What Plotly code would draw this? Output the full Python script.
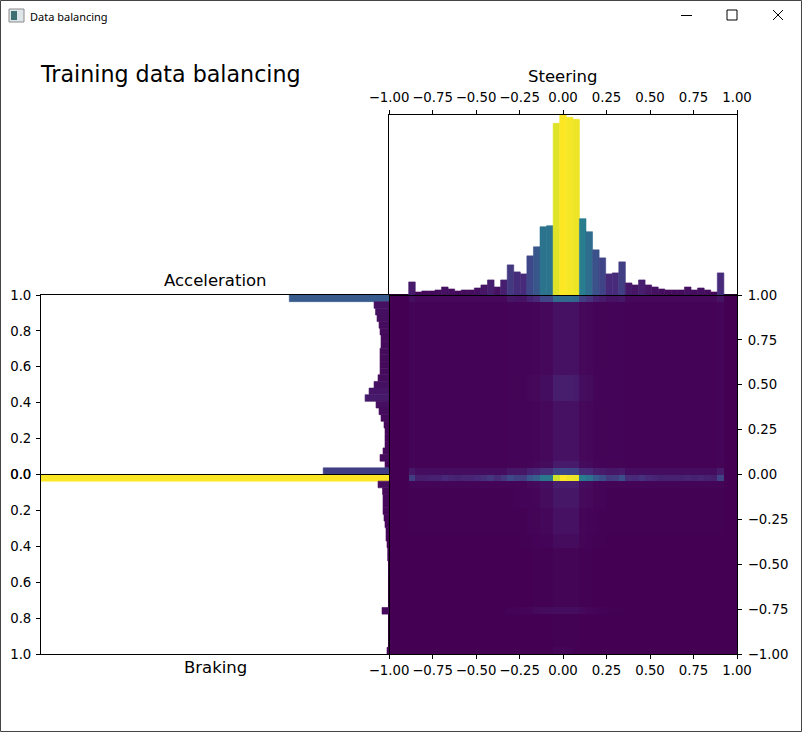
import numpy as np
import plotly.graph_objects as go
from plotly.colors import sample_colorscale

W, H = 802, 732

# ---------------- data ----------------
# steering histogram: 53 bins over [-1, 1]
steer_edges = np.linspace(-1.0, 1.0, 54)
steer_counts = [0, 0, 0, 130, 30, 40, 40, 50, 80, 60, 40, 50, 50,
                70, 100, 150, 80, 150, 300, 230, 210, 390, 480, 680, 690,
                1710, 1793, 1770, 1750, 760, 630, 450, 370, 210, 220, 330,
                120, 100, 150, 100, 80, 60, 50, 50, 50, 80, 50, 70, 50, 30,
                220, 0, 0]

# acceleration histogram: 27 bins, listed from 1.0 down to 0.0
accel_edges = np.linspace(1.0, 0.0, 28)
accel_counts = [1000, 150, 135, 120, 100, 90, 80, 80, 90, 90, 90, 90, 110,
                150, 200, 240, 130, 100, 80, 50, 40, 40, 40, 60, 90, 40, 660]

# braking histogram: 27 bins, listed from 0.0 down to 1.0
brake_edges = np.linspace(0.0, 1.0, 28)
brake_counts = [3490, 110, 65, 60, 60, 60, 50, 40, 30, 30, 20, 13, 13,
                5, 5, 3, 3, 3, 3, 3, 70, 2, 2, 2, 2, 2, 20]

# 2D histogram (per-mille of max), rows listed from throttle 1.0 (top) to -1.0 (bottom)
throttle_edges = np.linspace(-1.0, 1.0, 55)

row_accel_top = [0, 0, 0, 40,
                 20, 20, 20, 20, 20, 20, 20, 20, 20, 20, 20, 20, 20, 20,
                 60, 50, 50, 90, 110, 210, 210, 340, 350, 340, 330, 190, 140, 90, 70, 50, 50, 60,
                 20, 20, 20, 20, 20, 20, 20, 20, 20, 20, 20, 20, 20, 20,
                 50, 0, 0]
row_accel_body = [0, 0, 0, 8,
                  5, 5, 5, 5, 5, 5, 5, 5, 5, 5, 5, 5, 5, 5,
                  8, 8, 8, 12, 14, 20, 20, 45, 45, 45, 45, 20, 18, 12, 10, 8, 8, 8,
                  5, 5, 5, 5, 5, 5, 5, 5, 5, 5, 5, 5, 5, 5,
                  8, 0, 0]
row_accel_mid = [0, 0, 0, 8,
                 5, 5, 5, 5, 5, 5, 5, 5, 5, 5, 5, 5, 5, 5,
                 8, 10, 12, 18, 20, 35, 35, 80, 80, 80, 75, 35, 30, 15, 12, 8, 8, 8,
                 5, 5, 5, 5, 5, 5, 5, 5, 5, 5, 5, 5, 5, 5,
                 8, 0, 0]
row_accel_low = [0, 0, 0, 10,
                 6, 6, 6, 6, 6, 6, 6, 6, 6, 6, 6, 6, 6, 6,
                 10, 10, 10, 15, 20, 30, 30, 70, 70, 70, 70, 30, 25, 15, 12, 10, 10, 10,
                 6, 6, 6, 6, 6, 6, 6, 6, 6, 6, 6, 6, 6, 6,
                 10, 0, 0]
row_coast_up = [0, 0, 0, 60,
                35, 35, 35, 35, 35, 35, 35, 35, 35, 35, 35, 35, 35, 35,
                60, 60, 60, 90, 100, 130, 130, 210, 220, 210, 210, 120, 110, 80, 70, 60, 60, 70,
                35, 35, 35, 35, 35, 35, 35, 35, 35, 35, 35, 35, 35, 35,
                70, 0, 0]
row_coast = [0, 0, 0, 180,
             80, 80, 90, 90, 110, 100, 90, 100, 100, 110, 130, 160, 120, 160,
             220, 190, 180, 270, 300, 400, 400, 930, 1000, 980, 970, 420, 370, 280, 240, 170, 180, 240,
             120, 110, 140, 110, 100, 90, 90, 90, 90, 100, 90, 100, 90, 80,
             200, 0, 0]
row_brake_light = [0, 0, 0, 12,
                   8, 8, 8, 8, 8, 8, 8, 8, 8, 8, 8, 8, 8, 8,
                   12, 12, 12, 20, 25, 40, 40, 80, 80, 80, 80, 35, 30, 15, 12, 10, 10, 10,
                   8, 8, 8, 8, 8, 8, 8, 8, 8, 8, 8, 8, 8, 8,
                   10, 0, 0]
row_brake_a = [0, 0, 0, 4,
               3, 3, 3, 3, 3, 3, 3, 3, 3, 3, 3, 3, 3, 3,
               4, 5, 8, 12, 15, 28, 28, 60, 60, 60, 60, 25, 20, 10, 8, 4, 4, 4,
               3, 3, 3, 3, 3, 3, 3, 3, 3, 3, 3, 3, 3, 3,
               4, 0, 0]
row_brake_b = [0, 0, 0, 2,
               2, 2, 2, 2, 2, 2, 2, 2, 2, 2, 2, 2, 2, 2,
               2, 3, 4, 8, 10, 18, 18, 45, 45, 45, 45, 15, 12, 6, 4, 2, 2, 2,
               2, 2, 2, 2, 2, 2, 2, 2, 2, 2, 2, 2, 2, 2,
               2, 0, 0]
row_brake_c = [0, 0, 0, 0,
               1, 1, 1, 1, 1, 1, 1, 1, 1, 1, 1, 1, 1, 1,
               1, 1, 2, 4, 6, 12, 12, 30, 30, 30, 30, 10, 6, 3, 2, 1, 1, 1,
               1, 1, 1, 1, 1, 1, 1, 1, 1, 1, 1, 1, 1, 1,
               0, 0, 0]
row_brake_d = [0, 0, 0, 0,
               0, 0, 0, 0, 0, 0, 0, 0, 0, 0, 0, 0, 0, 0,
               0, 0, 0, 1, 2, 4, 4, 10, 10, 10, 10, 3, 2, 1, 0, 0, 0, 0,
               0, 0, 0, 0, 0, 0, 0, 0, 0, 0, 0, 0, 0, 0,
               0, 0, 0]
row_brake_e = [0, 0, 0, 0,
               0, 0, 0, 0, 0, 0, 0, 0, 0, 0, 0, 0, 0, 0,
               5, 5, 8, 15, 25, 30, 30, 35, 35, 35, 35, 20, 15, 8, 5, 2, 2, 2,
               0, 0, 0, 0, 0, 0, 0, 0, 0, 0, 0, 0, 0, 0,
               0, 0, 0]
row_brake_zero = [0, 0, 0, 0,
                  0, 0, 0, 0, 0, 0, 0, 0, 0, 0, 0, 0, 0, 0,
                  0, 0, 0, 0, 0, 0, 0, 2, 2, 2, 2, 0, 0, 0, 0, 0, 0, 0,
                  0, 0, 0, 0, 0, 0, 0, 0, 0, 0, 0, 0, 0, 0,
                  0, 0, 0]
row_brake_full = [0, 0, 0, 0,
                  0, 0, 0, 0, 0, 0, 0, 0, 0, 0, 0, 0, 0, 0,
                  0, 0, 0, 0, 0, 0, 0, 15, 15, 8, 0, 0, 0, 0, 0, 0, 0, 0,
                  0, 0, 0, 0, 0, 0, 0, 0, 0, 0, 0, 0, 0, 0,
                  0, 0, 0]

heat_rows_top_down = (
    [row_accel_top]
    + [row_accel_body] * 11
    + [row_accel_mid] * 4
    + [row_accel_body] * 9
    + [row_accel_low]
    + [row_coast_up]
    + [row_coast]
    + [row_brake_light]
    + [row_brake_a] * 3
    + [row_brake_b] * 4
    + [row_brake_c] * 2
    + [row_brake_d] * 9
    + [row_brake_e]
    + [row_brake_zero] * 5
    + [row_brake_full]
)
for r in heat_rows_top_down:
    assert len(r) == 53
assert len(heat_rows_top_down) == 54

steer_ticks = [-1.0, -0.75, -0.5, -0.25, 0.0, 0.25, 0.5, 0.75, 1.0]
steer_ticktext = ["\u22121.00", "\u22120.75", "\u22120.50", "\u22120.25",
                  "0.00", "0.25", "0.50", "0.75", "1.00"]
pedal_ticks = [0.0, 0.2, 0.4, 0.6, 0.8, 1.0]
pedal_ticktext = ["0.0", "0.2", "0.4", "0.6", "0.8", "1.0"]

# ---------------- derived ----------------
steer_centers = (steer_edges[:-1] + steer_edges[1:]) / 2
steer_w = steer_edges[1] - steer_edges[0]
accel_centers = (accel_edges[:-1] + accel_edges[1:]) / 2
brake_centers = (brake_edges[:-1] + brake_edges[1:]) / 2
pedal_w = abs(accel_edges[1] - accel_edges[0])

smax = max(steer_counts)
lmax = max(max(accel_counts), max(brake_counts))
steer_colors = sample_colorscale("Viridis", [c / smax for c in steer_counts])
accel_colors = sample_colorscale("Viridis", [c / lmax for c in accel_counts])
brake_colors = sample_colorscale("Viridis", [c / lmax for c in brake_counts])

heat_z = heat_rows_top_down[::-1]  # bottom-up for ascending y edges


def fx(px):
    return px / W


def fy(py):
    return 1 - py / H


X_MAIN = [fx(389), fx(737)]
X_LEFT = [fx(41), fx(389)]
Y_TOP = [fy(295), fy(115)]
Y_MAIN = [fy(654), fy(295)]
Y_ACC = [fy(474.5), fy(295)]
Y_BRK = [fy(654), fy(474.5)]

FONT = "DejaVu Sans"
tickfont = dict(family=FONT, size=13.3, color="black")

fig = go.Figure()
fig.add_trace(go.Heatmap(z=heat_z, x=steer_edges, y=throttle_edges,
                         colorscale="Viridis", zmin=0, zmax=1000,
                         showscale=False, xaxis="x", yaxis="y",
                         hoverinfo="skip"))
fig.add_trace(go.Bar(x=steer_centers, y=steer_counts, width=steer_w,
                     marker=dict(color=steer_colors,
                                 line=dict(width=0.6, color=steer_colors)),
                     xaxis="x2", yaxis="y2", hoverinfo="skip"))
fig.add_trace(go.Bar(y=accel_centers, x=accel_counts, width=pedal_w,
                     orientation="h",
                     marker=dict(color=accel_colors,
                                 line=dict(width=0.6, color=accel_colors)),
                     xaxis="x3", yaxis="y3", hoverinfo="skip"))
fig.add_trace(go.Bar(y=brake_centers, x=brake_counts, width=pedal_w,
                     orientation="h",
                     marker=dict(color=brake_colors,
                                 line=dict(width=0.6, color=brake_colors)),
                     xaxis="x4", yaxis="y4", hoverinfo="skip"))

common = dict(showline=True, linecolor="black", linewidth=1, mirror=True,
              showgrid=False, zeroline=False, tickfont=tickfont, automargin=False,
              ticks="outside", ticklen=4, tickwidth=1, tickcolor="black",
              tickangle=0)
noticks = dict(showline=True, linecolor="black", linewidth=1, mirror=True,
               showgrid=False, zeroline=False, ticks="", showticklabels=False,
               automargin=False)

fig.update_layout(
    width=W, height=H,
    margin=dict(l=0, r=0, t=0, b=0, pad=0, autoexpand=False),
    paper_bgcolor="white", plot_bgcolor="white", showlegend=False,
    xaxis=dict(domain=X_MAIN, anchor="y", range=[-1, 1], tickvals=steer_ticks,
               ticktext=steer_ticktext, side="bottom", **common),
    yaxis=dict(domain=Y_MAIN, anchor="x", range=[-1, 1], tickvals=steer_ticks,
               ticktext=steer_ticktext, side="right", ticklabelstandoff=3, **common),
    xaxis2=dict(domain=X_MAIN, anchor="y2", range=[-1, 1], tickvals=steer_ticks,
                ticktext=steer_ticktext, side="top", ticklabelstandoff=3, **common),
    yaxis2=dict(domain=Y_TOP, anchor="x2", range=[0, smax], **noticks),
    xaxis3=dict(domain=X_LEFT, anchor="y3", range=[lmax, 0], **noticks),
    yaxis3=dict(domain=Y_ACC, anchor="x3", range=[0, 1], tickvals=pedal_ticks,
                ticktext=pedal_ticktext, side="left", ticklabelstandoff=2, **common),
    xaxis4=dict(domain=X_LEFT, anchor="y4", range=[lmax, 0], **noticks),
    yaxis4=dict(domain=Y_BRK, anchor="x4", range=[1, 0], tickvals=pedal_ticks,
                ticktext=pedal_ticktext, side="left", ticklabelstandoff=2, **common),
)

annots = [
    dict(text="Training data balancing", x=fx(38), y=fy(74), xanchor="left",
         yanchor="middle", font=dict(family=FONT, size=22.2, color="black")),
    dict(text="Steering", x=fx(563), y=fy(77), xanchor="center",
         yanchor="middle", font=dict(family=FONT, size=16.5, color="black")),
    dict(text="Acceleration", x=fx(215), y=fy(280), xanchor="center",
         yanchor="middle", font=dict(family=FONT, size=16.5, color="black")),
    dict(text="Braking", x=fx(215), y=fy(667), xanchor="center",
         yanchor="middle", font=dict(family=FONT, size=16.5, color="black")),
    dict(text="Data balancing", x=fx(28), y=fy(16), xanchor="left",
         yanchor="middle", font=dict(family="Noto Sans", size=11, color="black")),
]
for a in annots:
    a.update(xref="paper", yref="paper", showarrow=False)
fig.update_layout(annotations=annots)

line_k = dict(color="black", width=1)
shapes = [
    # window border
    dict(type="rect", x0=fx(0.5), x1=fx(801.5), y0=fy(731.5), y1=fy(0.5),
         line=dict(color="#444444", width=1)),
    # window icon
    dict(type="rect", x0=fx(9), x1=fx(24), y0=fy(22), y1=fy(9),
         line=dict(color="#8a8a8a", width=1), fillcolor="#dfe6ea"),
    dict(type="rect", x0=fx(11), x1=fx(17), y0=fy(20), y1=fy(11),
         line=dict(width=0), fillcolor="#3f6f73"),
    # minimize / maximize / close
    dict(type="line", x0=fx(681), x1=fx(692), y0=fy(15.5), y1=fy(15.5), line=line_k),
    dict(type="rect", x0=fx(727), x1=fx(737), y0=fy(20), y1=fy(10), line=line_k),
    dict(type="line", x0=fx(773), x1=fx(783), y0=fy(10), y1=fy(20), line=line_k),
    dict(type="line", x0=fx(773), x1=fx(783), y0=fy(20), y1=fy(10), line=line_k),
]
for s in shapes:
    s.update(xref="paper", yref="paper")
fig.update_layout(shapes=shapes)

fig.write_html("out.html", config={"displayModeBar": False},
               post_script="document.body.style.margin='0';"
                           "document.body.style.overflow='hidden';")
